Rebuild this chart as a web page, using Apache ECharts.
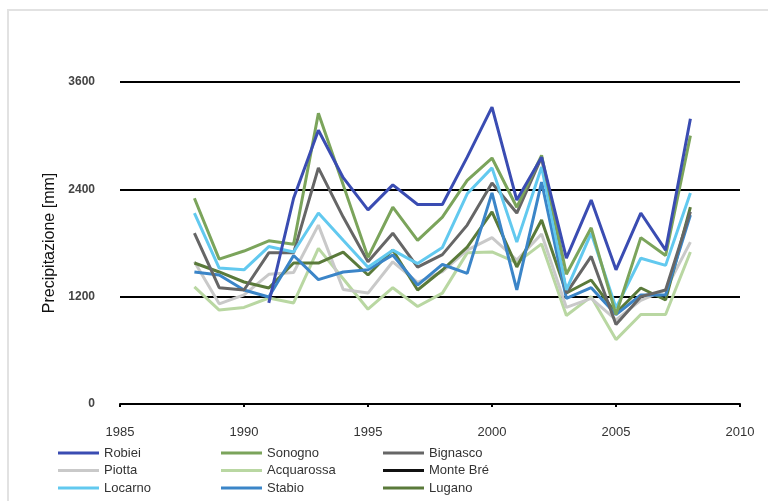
<!DOCTYPE html>
<html>
<head>
<meta charset="utf-8">
<script src="https://cdn.jsdelivr.net/npm/echarts@6/dist/echarts.min.js"></script>
<style>
html,body{margin:0;padding:0;background:#fff;}
#chart{width:768px;height:501px;}
</style>
</head>
<body>
<div id="chart"></div>
<script>
const years = [1988,1989,1990,1991,1992,1993,1994,1995,1996,1997,1998,1999,2000,2001,2002,2003,2004,2005,2006,2007,2008];
const xTicks = [1985,1990,1995,2000,2005,2010];
const yTicks = [0,1200,2400,3600];

const robiei     = [null,null,null,1130,2300,3060,2530,2170,2450,2230,2230,2760,3320,2280,2760,1630,2280,1500,2135,1720,3190];
const sonogno    = [2300,1620,1710,1825,1785,3250,2450,1640,2200,1830,2090,2500,2750,2200,2780,1450,1970,1000,1860,1660,3000];
const bignasco   = [1910,1300,1275,1690,1690,2640,2090,1590,1910,1530,1670,2000,2470,2135,2760,1240,1650,890,1200,1275,2150];
const piotta     = [1590,1120,1220,1450,1470,2000,1280,1240,1590,1360,1480,1720,1860,1610,1900,1080,1180,940,1160,1275,1810];
const acquarossa = [1310,1050,1080,1185,1130,1740,1400,1060,1300,1090,1240,1690,1700,1580,1790,990,1200,720,1000,1000,1700];
const monteBre   = [];
const locarno    = [2135,1520,1500,1760,1700,2135,1830,1530,1720,1570,1750,2350,2640,1810,2650,1275,1910,1075,1630,1550,2360];
const stabio     = [1476,1442,1275,1196,1660,1390,1476,1500,1666,1330,1560,1460,2360,1275,2480,1180,1300,1000,1219,1219,2113];
const lugano     = [1576,1476,1364,1297,1576,1576,1699,1442,1722,1275,1498,1755,2147,1532,2057,1241,1386,1017,1297,1163,2202];

const seriesDefs = [
  {name:'Acquarossa', data:acquarossa, color:'#b9d7a2'},
  {name:'Piotta', data:piotta, color:'#c9c9c9'},
  {name:'Monte Bré', data:monteBre, color:'#111111'},
  {name:'Lugano', data:lugano, color:'#5a7a3a'},
  {name:'Stabio', data:stabio, color:'#3b85c8'},
  {name:'Bignasco', data:bignasco, color:'#666666'},
  {name:'Locarno', data:locarno, color:'#62c9ef'},
  {name:'Sonogno', data:sonogno, color:'#7ba45b'},
  {name:'Robiei', data:robiei, color:'#3a4cb2'}
];

const chart = echarts.init(document.getElementById('chart'), null, {renderer:'canvas'});
const legendBase = {
  orient:'vertical', top:446, itemWidth:41, itemHeight:3, itemGap:3.5, padding:0,
  icon:'rect',
  textStyle:{fontFamily:'Liberation Sans, Arial, sans-serif', fontSize:13, color:'#333', lineHeight:14}
};
chart.setOption({
  animation:false,
  backgroundColor:'#fff',
  graphic:[{type:'rect', shape:{x:8,y:10,width:770,height:500}, style:{fill:'none', stroke:'#e2e2e2', lineWidth:2}, silent:true}],
  grid:{left:120, right:28, top:82, bottom:97},
  legend:[
    Object.assign({}, legendBase, {left:58, data:['Robiei','Piotta','Locarno']}),
    Object.assign({}, legendBase, {left:221, data:['Sonogno','Acquarossa','Stabio']}),
    Object.assign({}, legendBase, {left:383, data:['Bignasco','Monte Bré','Lugano']})
  ],
  xAxis:{
    type:'value', min:xTicks[0], max:xTicks[xTicks.length-1], interval:5,
    axisLine:{show:true, onZero:false, lineStyle:{color:'#000', width:2}},
    axisTick:{show:true, length:3, lineStyle:{color:'#000', width:2}},
    splitLine:{show:false},
    axisLabel:{fontFamily:'Liberation Sans, Arial, sans-serif', fontSize:13, color:'#333', margin:22, formatter:v=>String(v)}
  },
  yAxis:{
    type:'value', min:yTicks[0], max:yTicks[yTicks.length-1], interval:1200,
    name:'Precipitazione [mm]', nameLocation:'middle', nameGap:62, nameRotate:90,
    nameTextStyle:{fontFamily:'Liberation Sans Narrow, Arial Narrow, Liberation Sans, sans-serif', fontSize:16, color:'#111'},
    axisLine:{show:false}, axisTick:{show:false},
    splitLine:{show:true, lineStyle:{color:'#000', width:2}},
    axisLabel:{fontFamily:'Liberation Sans, Arial, sans-serif', fontSize:12, fontWeight:'bold', color:'#444', margin:25, formatter:v=>String(v)}
  },
  series: seriesDefs.map(s => ({
    name:s.name, type:'line', symbol:'none',
    data: s.data.map((v,i)=>[years[i], v]),
    lineStyle:{color:s.color, width:3},
    itemStyle:{color:s.color},
    connectNulls:false
  }))
});
</script>
</body>
</html>
